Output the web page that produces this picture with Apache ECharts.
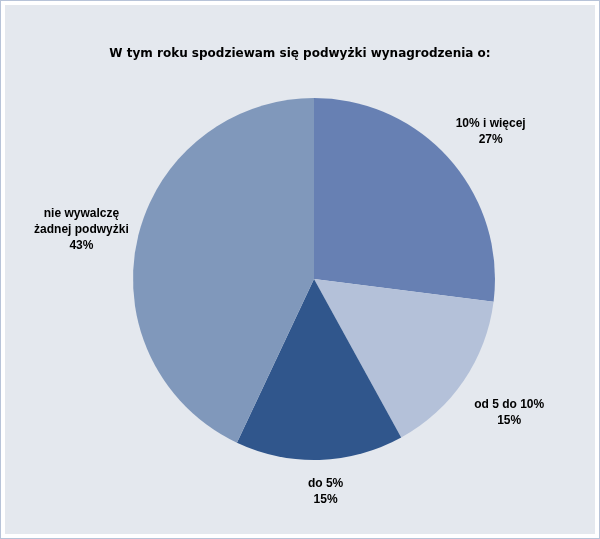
<!DOCTYPE html>
<html>
<head>
<meta charset="utf-8">
<script src="https://cdn.jsdelivr.net/npm/echarts@6/dist/echarts.min.js"></script>
<style>
    html, body { margin: 0; padding: 0; background: #fff; }
    .frame {
        width: 598px; height: 537px;
        border: 1px solid #b7c3d8;
        background: #fff;
        position: relative;
    }
    #chart {
        position: absolute; left: 4px; top: 4px;
        width: 590px; height: 529px;
        background: #e4e8ee;
    }
</style>
</head>
<body>
<div class="frame"><div id="chart"></div></div>
<script>
    // dane z wykresu
    const categories = ['10% i więcej', 'od 5 do 10%', 'do 5%', 'nie wywalczę\nżadnej podwyżki']
    const values = [27, 15, 15, 43]
    const colors = ['#6780b3', '#b4c1d9', '#30568c', '#8098bb']

    const cx = 309, cy = 274, R = 181
    const total = values.reduce((a, b) => a + b, 0)
    // kąty środkowe wycinków (od godziny 12, zgodnie z ruchem wskazówek)
    const midAngles = []
    let acc = 0
    values.forEach(v => {
        midAngles.push((acc + v / 2) / total * Math.PI * 2)
        acc += v
    })

    const chart = echarts.init(document.getElementById('chart'))
    chart.setOption({
        animation: false,
        title: {
            text: 'W tym roku spodziewam się podwyżki wynagrodzenia o:',
            left: 'center',
            top: 38,
            textStyle: { fontFamily: 'Verdana, DejaVu Sans', fontSize: 12, fontWeight: 'bold', color: '#000' }
        },
        series: [{
            type: 'pie',
            center: [cx, cy],
            radius: [0, R],
            startAngle: 90,
            clockwise: true,
            silent: true,
            data: categories.map((name, i) => ({
                name: name,
                value: values[i],
                itemStyle: { color: colors[i] }
            })),
            label: {
                show: true,
                position: 'outside',
                formatter: p => p.name + '\n' + p.value + '%',
                fontFamily: 'Arial, Liberation Sans',
                fontSize: 12,
                fontWeight: 'bold',
                lineHeight: 16,
                color: '#000',
                align: 'center',
                overflow: 'none'
            },
            labelLine: { show: false },
            labelLayout: function (p) {
                const a = midAngles[p.dataIndex]
                const dx = Math.sin(a), dy = -Math.cos(a)
                const w = p.labelRect.width, h = p.labelRect.height
                const d = R + 11 + Math.abs(dx) * w / 2 + Math.abs(dy) * h / 2
                return {
                    x: cx + dx * d + 5,
                    y: cy + dy * d + 4,
                    align: 'center',
                    verticalAlign: 'middle'
                }
            }
        }]
    })
</script>
</body>
</html>
